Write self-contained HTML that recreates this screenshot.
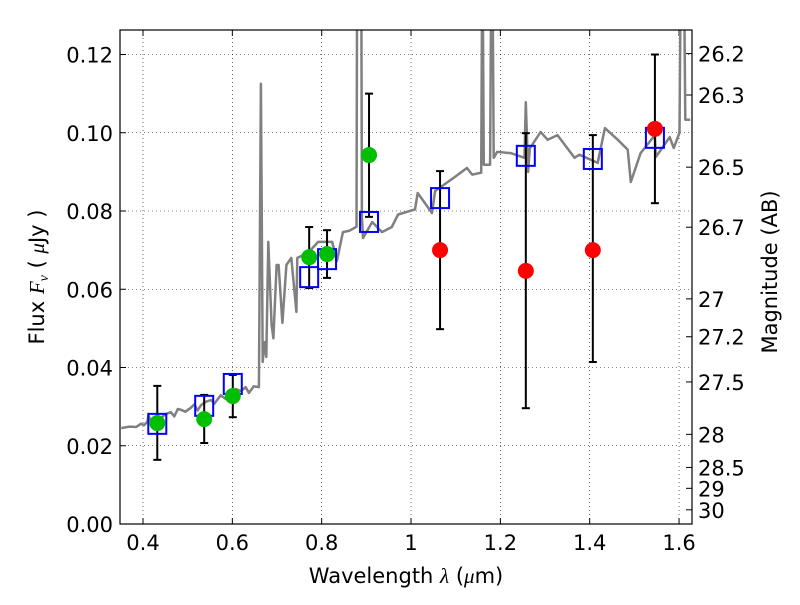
<!DOCTYPE html>
<html><head><meta charset="utf-8"><style>
body{margin:0;background:#fff}
svg text{font-family:"DejaVu Sans","Liberation Sans",sans-serif;fill:#000}
</style></head><body>
<svg id="chart" width="800" height="600" xmlns="http://www.w3.org/2000/svg"></svg>
<script>
// ---- data ----
const specLam=[0.3515,0.37,0.385,0.395,0.403,0.41,0.412,0.418,0.43,0.44,0.45,0.462,0.47,0.478,0.485,0.495,0.507,0.515,0.522,0.53,0.54,0.552,0.56,0.574,0.585,0.597,0.608,0.619,0.63,0.637,0.648,0.6595,0.664,0.668,0.6715,0.676,0.6805,0.688,0.692,0.699,0.7035,0.712,0.721,0.732,0.7435,0.7455,0.7695,0.792,0.8235,0.834,0.8475,0.863,0.878,0.879,0.889,0.890,0.8925,0.913,0.935,0.957,0.971,1.009,1.015,1.047,1.054,1.076,1.098,1.125,1.137,1.157,1.159,1.161,1.163,1.177,1.179,1.183,1.185,1.193,1.223,1.254,1.257,1.262,1.266,1.29,1.306,1.328,1.366,1.377,1.418,1.434,1.463,1.485,1.492,1.514,1.546,1.548,1.579,1.588,1.601,1.603,1.612,1.614,1.625];
const specFlux=[0.0245,0.0249,0.0248,0.0256,0.0253,0.0262,0.0278,0.0261,0.0268,0.0271,0.0280,0.0286,0.0275,0.0294,0.0292,0.0287,0.0297,0.0306,0.0290,0.0304,0.0312,0.0317,0.0308,0.0329,0.0320,0.0335,0.0345,0.0340,0.0350,0.0335,0.0352,0.0350,0.1125,0.0414,0.0465,0.0427,0.0721,0.0509,0.0475,0.0662,0.0662,0.0514,0.0662,0.0680,0.0542,0.0680,0.0693,0.0721,0.0721,0.0672,0.0746,0.0750,0.0760,0.1300,0.1300,0.0783,0.0731,0.0772,0.0746,0.0759,0.0791,0.0804,0.0846,0.0795,0.0851,0.0869,0.0887,0.0910,0.0893,0.0898,0.1300,0.1300,0.0918,0.0918,0.1300,0.1300,0.0936,0.0951,0.0948,0.0936,0.1078,0.0900,0.0960,0.1002,0.0982,0.0994,0.0936,0.0944,0.0923,0.1012,0.0982,0.0957,0.0874,0.0948,0.0994,0.0938,0.0989,0.0961,0.1000,0.1300,0.1300,0.1033,0.1033];
const photLam=[0.432,0.537,0.601,0.772,0.812,0.906,1.065,1.257,1.407,1.546];
const modelFlux=[0.0256,0.0302,0.0358,0.0631,0.0677,0.0772,0.0833,0.0941,0.0933,0.0987];
const obsFlux=[0.0258,0.0268,0.0327,0.0682,0.0690,0.0943,0.0700,0.0647,0.0700,0.1010];
const errHi=[0.0353,0.0330,0.0381,0.0759,0.0751,0.1100,0.0902,0.0999,0.0994,0.1200];
const errLo=[0.0164,0.0207,0.0273,0.0603,0.0629,0.0785,0.0498,0.0296,0.0414,0.0820];
const detected=[1,1,1,1,1,1,0,0,0,0];
const xTicks=[0.4,0.6,0.8,1.0,1.2,1.4,1.6];
const xTickLabels=["0.4","0.6","0.8","1","1.2","1.4","1.6"];
const yTicks=[0,0.02,0.04,0.06,0.08,0.10,0.12];
const yTickLabels=["0.00","0.02","0.04","0.06","0.08","0.10","0.12"];
const magTicks=[26.2,26.3,26.5,26.7,27,27.2,27.5,28,28.5,29,30];
const magTickLabels=["26.2","26.3","26.5","26.7","27","27.2","27.5","28","28.5","29","30"];
// ---- axes ----
const L=120,R=692,T=30,B=524;
const X=v=>143+(v-0.4)*446.7;
const Y=v=>B-v*3912.5;
const magToFlux=m=>Math.pow(10,(23.9-m)/2.5);
const NS="http://www.w3.org/2000/svg";
const svg=document.getElementById('chart');
function mk(tag,attrs,parent){const e=document.createElementNS(NS,tag);for(const k in attrs)e.setAttribute(k,attrs[k]);(parent||svg).appendChild(e);return e;}
const defs=mk('defs',{});const cp=mk('clipPath',{id:'clip'},defs);mk('rect',{x:L,y:T,width:R-L,height:B-T},cp);
const FS=21;
xTicks.forEach((t,i)=>{
 const g=mk('line',{x1:X(t),x2:X(t),y1:T,y2:B,stroke:'#000','stroke-width':0.6,'stroke-dasharray':'1,3'});
 
 
 const tk=mk('line',{x1:X(t),x2:X(t),y1:B,y2:B-6,stroke:'#000'});
 
 
 mk('line',{x1:X(t),x2:X(t),y1:T,y2:T+6,stroke:'#000'});
 const lb=mk('text',{x:X(t),y:B+26,'font-size':FS,'text-anchor':'middle'});lb.textContent=xTickLabels[i];
 
 
});
yTicks.forEach((t,i)=>{
 const g=mk('line',{x1:L,x2:R,y1:Y(t),y2:Y(t),stroke:'#000','stroke-width':0.6,'stroke-dasharray':'1,3'});
 
 
 const tk=mk('line',{x1:L,x2:L+6,y1:Y(t),y2:Y(t),stroke:'#000'});
 
 
 const lb=mk('text',{x:L-7,y:Y(t)+8,'font-size':FS,'text-anchor':'end'});lb.textContent=yTickLabels[i];
 
 
});
magTicks.forEach((m,i)=>{
 const y=Y(magToFlux(m));
 const tk=mk('line',{x1:R,x2:R-6,y1:y,y2:y,stroke:'#000'});
 
 
 const lb=mk('text',{x:R+6,y:y+8,'font-size':FS});lb.textContent=magTickLabels[i];
 
 
});
const pts=specLam.map((l,i)=>X(l).toFixed(1)+','+Y(specFlux[i]).toFixed(1)).join(' ');
const sp=mk('polyline',{points:pts,fill:'none',stroke:'#808080','stroke-width':2.5,'clip-path':'url(#clip)','stroke-linejoin':'round'});


photLam.forEach((l,i)=>{
 const x=X(l);
 const e=mk('g',{stroke:'#000','stroke-width':2});
 
 
 mk('line',{x1:x,x2:x,y1:Y(errHi[i]),y2:Y(errLo[i])},e);
 mk('line',{x1:x-4,x2:x+4,y1:Y(errHi[i]),y2:Y(errHi[i])},e);
 mk('line',{x1:x-4,x2:x+4,y1:Y(errLo[i]),y2:Y(errLo[i])},e);
});
photLam.forEach((l,i)=>{
 const s=mk('rect',{x:X(l)-9,y:Y(modelFlux[i])-10,width:18,height:20,fill:'none',stroke:'#0000ff','stroke-width':2});
 
 
});
photLam.forEach((l,i)=>{
 const c=mk('circle',{cx:X(l),cy:Y(obsFlux[i]),r:8,fill:detected[i]?'#00bf00':'#ff0000'});
 
 
});
const fr=mk('rect',{x:L,y:T,width:R-L,height:B-T,fill:'none',stroke:'#000','stroke-width':1.2});


const xl=mk('text',{x:406,y:583,'font-size':21,'text-anchor':'middle'});
xl.innerHTML='Wavelength  <tspan font-family="Liberation Serif" font-style="italic">λ</tspan> (<tspan font-family="Liberation Serif" font-style="italic">μ</tspan>m)';


const yl=mk('text',{x:0,y:0,'font-size':21,'text-anchor':'middle',transform:'translate(44,277) rotate(-90)'});
yl.innerHTML='Flux  <tspan font-family="Liberation Serif" font-style="italic">F</tspan><tspan font-family="Liberation Serif" font-style="italic" font-size="14" dy="4">ν</tspan><tspan dy="-4">  ( </tspan><tspan font-family="Liberation Serif" font-style="italic">μ</tspan>Jy )';


const ml=mk('text',{x:0,y:0,'font-size':21,'text-anchor':'middle',transform:'translate(777,272) rotate(-90)'});
ml.textContent='Magnitude (AB)';


</script>
</body></html>
